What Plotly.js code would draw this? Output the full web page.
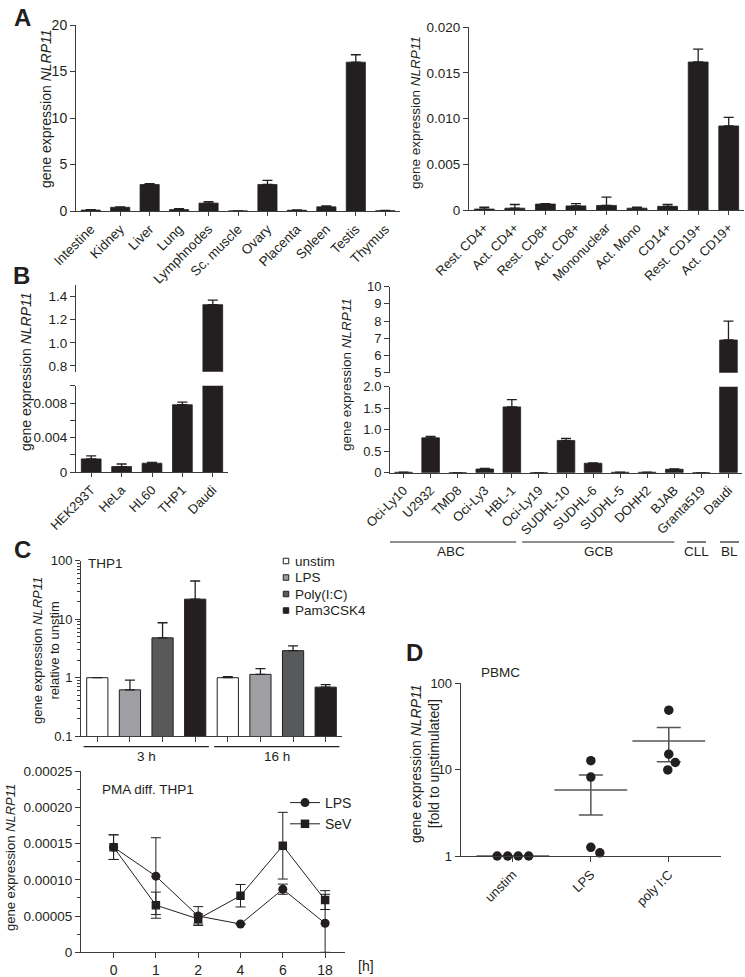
<!DOCTYPE html>
<html><head><meta charset="utf-8">
<script src="https://cdn.plot.ly/plotly-3.0.1.min.js"></script>
<style>html,body{margin:0;padding:0;background:#fff}#chart{width:745px;height:977px}</style>
</head><body><div id="chart"></div>
<script>
// ---------------- DATA ----------------
// A left: human tissues
const tissues = ["Intestine","Kidney","Liver","Lung","Lymphnodes","Sc. muscle","Ovary","Placenta","Spleen","Testis","Thymus"];
const tissueExpr = [0.1,0.4,2.85,0.15,0.85,0,2.85,0.08,0.45,16.0,0.02];
const tissueErr  = [0.05,0.03,0.1,0.1,0.15,0,0.45,0.05,0.1,0.8,0.05];
// A right: immune cells
const cells = ["Rest. CD4+","Act. CD4+","Rest. CD8+","Act. CD8+","Mononuclear","Act. Mono","CD14+","Rest. CD19+","Act. CD19+"];
const cellExpr = [0.0001,0.0002,0.00065,0.00045,0.0005,0.0002,0.0004,0.0162,0.0092];
const cellErr  = [0.0002,0.0004,0.00005,0.00025,0.0009,0.0001,0.0002,0.0014,0.00095];
// B left: cell lines
const cellLines = ["HEK293T","HeLa","HL60","THP1","Daudi"];
const cellLineExpr = [0.00155,0.00066,0.00105,0.0078,1.33];
const cellLineErr  = [0.00035,0.0003,0.0001,0.0003,0.04];
// B right: lymphoma lines
const lymphoma = ["Oci-Ly10","U2932","TMD8","Oci-Ly3","HBL-1","Oci-Ly19","SUDHL-10","SUDHL-6","SUDHL-5","DOHH2","BJAB","Granta519","Daudi"];
const lymphomaExpr = [0.01,0.81,0,0.085,1.53,0,0.75,0.22,0.01,0.01,0.08,0,6.9];
const lymphomaErr  = [0,0.035,0,0.015,0.17,0,0.05,0.01,0,0,0.01,0,1.1];
const subtypes = ["ABC","GCB","CLL","BL"];
// C top: THP1 stimulation (fold to unstim)
const stimuli = ["unstim","LPS","Poly(I:C)","Pam3CSK4"];
const timepoints = ["3 h","16 h"];
const unstimFold = [1,1.0];   const unstimErr = [0,0.04];
const lpsFold    = [0.62,1.14]; const lpsErr  = [0.29,0.29];
const polyFold   = [4.8,2.9];  const polyErr  = [3.9,0.6];
const pamFold    = [22,0.69];  const pamErr   = [23,0.07];
// C bottom: PMA diff. THP1 time course
const hours = ["0","1","2","4","6","18"];
const lpsTime    = [0.000145,0.000105,0.00005,0.000039,0.000087,0.00004];
const lpsTimeErr = [0.000017,0.000053,0.000013,0,0.000007,0.00004];
const sevTime    = [0.000145,0.000065,0.000046,0.000078,0.000147,0.000072];
const sevTimeErr = [0.000017,0.000018,0.000007,0.0000155,0.000046,0.000013];
// D: PBMC
const dGroups = ["unstim","LPS","poly I:C"];
const dUnstim = [1,1,1,1];
const dLps    = [12.7,8.2,1.26,1.09];
const dPoly   = [48.9,15.1,12.1,9.93];

// ---------------- LAYOUT HELPERS ----------------
const W=745,H=977;
const fx=p=>p/W, fy=p=>1-p/H;
const FONT='Liberation Sans, Arial, Helvetica, sans-serif';
const INK='#231f20', AX='#3c3c3c';
const stimColors=['#ffffff','#9d9fa2','#58595b','#231f20'];

function ax(o){
  return Object.assign({showline:true,linecolor:AX,linewidth:1,ticks:'outside',ticklen:5,tickcolor:AX,tickwidth:1,
    showgrid:false,zeroline:false,fixedrange:true,tickfont:{size:13,color:INK,family:FONT}},o);
}
function barTrace(x,y,err,xa,ya,color,extra){
  return Object.assign({type:'bar',x:x,y:y,xaxis:xa,yaxis:ya,width:0.65,
    marker:{color:color,line:{color:INK,width:0.8}},
    error_y:{type:'data',symmetric:false,array:err,arrayminus:err.map(()=>0),color:INK,thickness:1.3,width:5},
    showlegend:false,hoverinfo:'skip'},extra||{});
}
const mean=a=>a.reduce((s,v)=>s+v,0)/a.length;
const sem=a=>{const m=mean(a);return Math.sqrt(a.reduce((s,v)=>s+(v-m)*(v-m),0)/(a.length-1))/Math.sqrt(a.length);};

// beeswarm-style dodge for overlapping dots (pixel units)
function dodge(vals,pxPerDecade,D){
  const ys=vals.map(v=>Math.log10(v)*pxPerDecade);
  const offs=vals.map(()=>0), placed=[];
  const order=vals.map((_,i)=>i).sort((a,b)=>vals[b]-vals[a]);
  for(const i of order){
    for(let k=0;k<800;k++){
      const c=(k%2===1?1:-1)*Math.ceil(k/2)*0.25;
      if(placed.every(j=>{const dx=c-offs[j],dy=ys[i]-ys[j];return dx*dx+dy*dy>=D*D-1e-6;})){offs[i]=c;break;}
    }
    placed.push(i);
  }
  [...new Set(vals)].forEach(u=>{const idx=vals.map((v,i)=>v===u?i:-1).filter(i=>i>=0);
    if(idx.length>1){const m=mean(idx.map(i=>offs[i]));idx.forEach(i=>offs[i]-=m);}});
  return offs;
}

// ---------------- TRACES ----------------
const traces=[];
traces.push(barTrace(tissues,tissueExpr,tissueErr,'x','y',INK));
traces.push(barTrace(cells,cellExpr,cellErr,'x2','y2',INK));
traces.push(barTrace(cellLines,cellLineExpr,cellLineErr,'x3','y3',INK));
traces.push(barTrace(cellLines,cellLineExpr,cellLineErr,'x3','y4',INK));
traces.push(barTrace(lymphoma,lymphomaExpr,lymphomaErr,'x5','y5',INK));
traces.push(barTrace(lymphoma,lymphomaExpr,lymphomaErr,'x5','y6',INK));

const cTopCats=[]; timepoints.forEach(t=>stimuli.forEach(s=>cTopCats.push(t+' | '+s)));
const foldSets=[unstimFold,lpsFold,polyFold,pamFold], foldErrs=[unstimErr,lpsErr,polyErr,pamErr];
stimuli.forEach((s,i)=>{
  traces.push(barTrace(timepoints.map(t=>t+' | '+s),foldSets[i],foldErrs[i],'x7','y7',stimColors[i],
    {name:s,marker:{color:stimColors[i],line:{color:INK,width:1}}}));
});

traces.push({type:'scatter',mode:'lines+markers',name:'LPS',x:hours,y:lpsTime,xaxis:'x8',yaxis:'y8',legend:'legend2',
  line:{color:INK,width:1},marker:{symbol:'circle',size:9,color:INK},
  error_y:{type:'data',array:lpsTimeErr,color:INK,thickness:1,width:5},hoverinfo:'skip'});
traces.push({type:'scatter',mode:'lines+markers',name:'SeV',x:hours,y:sevTime,xaxis:'x8',yaxis:'y8',legend:'legend2',
  line:{color:INK,width:1},marker:{symbol:'square',size:8.5,color:INK},
  error_y:{type:'data',array:sevTimeErr,color:INK,thickness:1,width:5},hoverinfo:'skip'});

// D
const dDomX=[460.7,721], dDomY=[683.3,856];
const dRangeX=[-0.67,2.67];
const pxPerCat=(dDomX[1]-dDomX[0])/(dRangeX[1]-dRangeX[0]);
const pxPerDecade=(dDomY[1]-dDomY[0])/2;
[dUnstim,dLps,dPoly].forEach((vals,g)=>{
  traces.push({type:'scatter',mode:'markers',x:[g],y:[mean(vals)],xaxis:'x9',yaxis:'y9',showlegend:false,hoverinfo:'skip',
    marker:{symbol:'line-ew',size:52,color:'#555',line:{color:'#555',width:1.5}},
    error_y:{type:'data',array:[sem(vals)],color:'#555',thickness:1.5,width:12}});
});
[dUnstim,dLps,dPoly].forEach((vals,g)=>{
  const offs=dodge(vals,pxPerDecade,10.4);
  traces.push({type:'scatter',mode:'markers',x:vals.map((_,i)=>g+offs[i]/pxPerCat),y:vals,xaxis:'x9',yaxis:'y9',
    showlegend:false,hoverinfo:'skip',marker:{symbol:'circle',size:9.5,color:INK},cliponaxis:false});
});

// ---------------- LAYOUT ----------------
const layout={
  width:W,height:H,margin:{l:0,r:0,t:0,b:0},paper_bgcolor:'#fff',plot_bgcolor:'rgba(0,0,0,0)',
  font:{family:FONT,color:INK,size:13},barmode:'overlay',
  xaxis: ax({domain:[fx(76),fx(400)],anchor:'y',type:'category',range:[-0.5,10.5],tickangle:-45,ticklen:4,tickfont:{size:13.5,color:INK,family:FONT}}),
  yaxis: ax({domain:[fy(211),fy(25)],anchor:'x',range:[0,20],tickvals:[0,5,10,15,20],ticktext:['0','5','10','15','20'],tickfont:{size:14,color:INK,family:FONT}}),
  xaxis2:ax({domain:[fx(469),fx(744)],anchor:'y2',type:'category',range:[-0.5,8.5],tickangle:-45,ticklen:4}),
  yaxis2:ax({domain:[fy(210),fy(27.3)],anchor:'x2',range:[0,0.02],tickvals:[0,0.005,0.01,0.015,0.02],ticktext:['0','0.005','0.010','0.015','0.020'],tickfont:{size:13.5,color:INK,family:FONT}}),
  xaxis3:ax({domain:[fx(76),fx(228)],anchor:'y3',type:'category',range:[-0.5,4.5],tickangle:-45,ticklen:4}),
  yaxis3:ax({domain:[fy(472.3),fy(385.7)],anchor:'x3',range:[0,0.01],tickvals:[0,0.002,0.004,0.006,0.008,0.01],ticktext:['0','','0.004','','0.008',''],tickfont:{size:13.5,color:INK,family:FONT}}),
  yaxis4:ax({domain:[fy(371.7),fy(285)],anchor:'x3',range:[0.75,1.5],tickvals:[0.8,1.0,1.2,1.4],ticktext:['0.8','1.0','1.2','1.4'],tickfont:{size:13.5,color:INK,family:FONT}}),
  xaxis5:ax({domain:[fx(390),fx(742)],anchor:'y5',type:'category',range:[-0.5,12.5],tickangle:-45,ticklen:4}),
  yaxis5:ax({domain:[fy(472.7),fy(386.7)],anchor:'x5',range:[0,2],tickvals:[0,0.5,1,1.5,2],ticktext:['0','0.5','1.0','1.5','2.0']}),
  yaxis6:ax({domain:[fy(372.7),fy(286.7)],anchor:'x5',range:[5,10],tickvals:[5,6,7,8,9,10],ticktext:['5','6','7','8','9','10']}),
  xaxis7:ax({domain:[fx(81),fx(342)],anchor:'y7',type:'category',categoryorder:'array',categoryarray:cTopCats,range:[-0.5,7.5],showticklabels:false,ticklen:5}),
  yaxis7:ax({domain:[fy(736.2),fy(560.7)],anchor:'x7',type:'log',range:[-1,2],tickvals:[0.1,1,10,100],ticktext:['0.1','1','10','100'],
    minor:{ticks:'outside',ticklen:3,tickcolor:AX,tickvals:[0.2,0.3,0.4,0.5,0.6,0.7,0.8,0.9,2,3,4,5,6,7,8,9,20,30,40,50,60,70,80,90],showgrid:false}}),
  xaxis8:ax({domain:[fx(81),fx(345)],anchor:'y8',type:'category',range:[-0.77,5.47],tickangle:0,ticklen:5,tickfont:{size:14,color:INK,family:FONT}}),
  yaxis8:ax({domain:[fy(952.3),fy(771)],anchor:'x8',range:[0,0.00025],tickvals:[0,0.00005,0.0001,0.00015,0.0002,0.00025],
    ticktext:['0','0.00005','0.00010','0.00015','0.00020','0.00025'],tickfont:{size:13.5,color:INK,family:FONT},
    minor:{ticks:'outside',ticklen:3,tickcolor:AX,tickmode:'linear',tick0:0,dtick:0.000025,showgrid:false}}),
  xaxis9:ax({domain:[fx(dDomX[0]),fx(dDomX[1])],anchor:'y9',range:dRangeX,tickvals:[0,1,2],ticktext:dGroups,tickangle:-45,ticklen:5}),
  yaxis9:ax({domain:[fy(dDomY[1]),fy(dDomY[0])],anchor:'x9',type:'log',range:[0,2],tickvals:[1,10,100],ticktext:['1','10','100']}),
  legend2:{x:fx(285),y:fy(787),xanchor:'left',yanchor:'top',bgcolor:'rgba(0,0,0,0)',font:{size:14,color:INK,family:FONT},itemwidth:30,tracegroupgap:6},
  shapes:[],annotations:[]
};

// group lines under B right and C top
const subtypeLineStart=[-0.68,4.38,10.47,11.69], subtypeLineEnd=[4.16,10.0,11.17,12.39];
subtypes.forEach((s,i)=>{
  layout.shapes.push({type:'line',xref:'x5',yref:'paper',x0:subtypeLineStart[i],x1:subtypeLineEnd[i],y0:fy(542),y1:fy(542),line:{color:INK,width:1.2}});
  layout.annotations.push({xref:'x5',yref:'paper',x:(subtypeLineStart[i]+subtypeLineEnd[i])/2,y:fy(551.5),text:s,showarrow:false,font:{size:13.5},xanchor:'center',yanchor:'middle'});
});
const timeLineStart=[-0.42,3.58], timeLineEnd=[3.42,7.42];
timepoints.forEach((t,i)=>{
  layout.shapes.push({type:'line',xref:'x7',yref:'paper',x0:timeLineStart[i],x1:timeLineEnd[i],y0:fy(746.7),y1:fy(746.7),line:{color:INK,width:1.2}});
  layout.annotations.push({xref:'x7',yref:'paper',x:(timeLineStart[i]+timeLineEnd[i])/2,y:fy(756.5),text:t,showarrow:false,font:{size:13.5},xanchor:'center',yanchor:'middle'});
});

function ann(text,x,y,o){layout.annotations.push(Object.assign({xref:'paper',yref:'paper',x:fx(x),y:fy(y),text:text,showarrow:false,xanchor:'center',yanchor:'middle',font:{size:13,color:INK,family:FONT}},o||{}));}

// C top key (small square symbols, compact rows)
const keyX=286, keyY0=561, keyRow=16.5, keySize=5.5;
stimuli.forEach((s,i)=>{
  const cy=keyY0+i*keyRow;
  layout.shapes.push({type:'rect',xref:'paper',yref:'paper',x0:fx(keyX-keySize/2),x1:fx(keyX+keySize/2),y0:fy(cy+keySize/2),y1:fy(cy-keySize/2),
    fillcolor:stimColors[i],line:{color:INK,width:1}});
  ann(s,293,cy,{xanchor:'left',font:{size:13.5,color:INK,family:FONT}});
});

const GE='gene expression <i>NLRP11</i>';
// panel letters
ann('<b>A</b>',22,17,{font:{size:24,color:INK,family:FONT}});
ann('<b>B</b>',21,275,{font:{size:24,color:INK,family:FONT}});
ann('<b>C</b>',22,549,{font:{size:24,color:INK,family:FONT}});
ann('<b>D</b>',414,652,{font:{size:24,color:INK,family:FONT}});
// y titles
ann(GE,46,109,{textangle:-90,font:{size:14,color:INK,family:FONT}});
ann(GE,416,112,{textangle:-90,font:{size:13.5,color:INK,family:FONT}});
ann(GE,26,372,{textangle:-90,font:{size:14,color:INK,family:FONT}});
ann(GE,346,375,{textangle:-90,font:{size:13.5,color:INK,family:FONT}});
ann(GE+'<br>relative to unstim',46,651,{textangle:-90,font:{size:13,color:INK,family:FONT}});
ann(GE,10,858,{textangle:-90,font:{size:13,color:INK,family:FONT}});
ann(GE+'<br>[fold to unstimulated]',425,763,{textangle:-90,font:{size:14,color:INK,family:FONT}});
// panel titles
ann('THP1',86,563,{xanchor:'left',font:{size:13.5,color:INK,family:FONT}});
ann('PMA diff. THP1',100,789,{xanchor:'left',font:{size:13.5,color:INK,family:FONT}});
ann('PBMC',479,672,{xanchor:'left',font:{size:13.5,color:INK,family:FONT}});
ann('[h]',366,966,{font:{size:14,color:INK,family:FONT}});

Plotly.newPlot('chart',traces,layout,{staticPlot:true,displayModeBar:false});
</script></body></html>
